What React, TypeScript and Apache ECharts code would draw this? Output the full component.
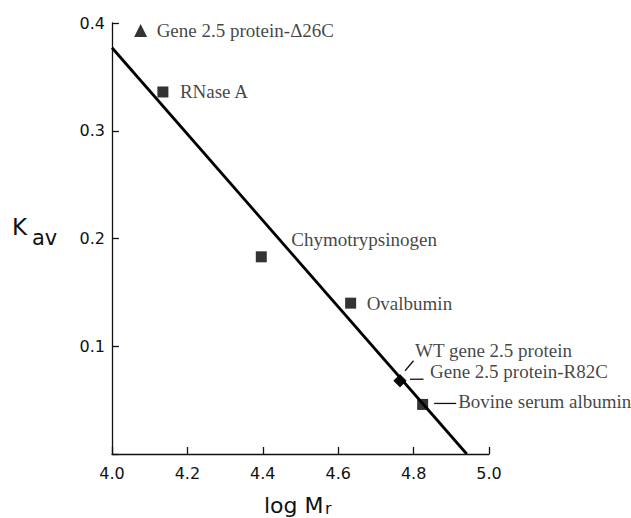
import { useEffect, useRef } from 'react';
import * as echarts from 'echarts';

// ---- data ----
const proteinNames = [
  'Gene 2.5 protein-Δ26C',
  'RNase A',
  'Chymotrypsinogen',
  'Ovalbumin',
  'WT gene 2.5 protein',
  'Gene 2.5 protein-R82C',
  'Bovine serum albumin',
];
const logMr = [4.076, 4.135, 4.396, 4.633, 4.764, 4.764, 4.824];
const kav = [0.393, 0.336, 0.183, 0.14, 0.068, 0.068, 0.046];
const proteinSymbols = ['triangle', 'rect', 'rect', 'rect', 'diamond', 'diamond', 'rect'];

const fitLogMr = [4.0, 4.941];
const fitKav = [0.377, 0.0];

const xMin = 4.0;
const xMax = 5.0;
const xStep = 0.2;
const yMin = 0;
const yMax = 0.4;
const yStep = 0.1;

// ---- styling (pixels relative to each symbol centre) ----
const symbolSizes = [13, 11, 11, 11, 13, 13, 11];
const labelOffsets: number[][] = [
  [16, 0],
  [17, 0],
  [30, -17.5],
  [16, 0],
  [15, -30],
  [30, -9.5],
  [35.5, -2.5],
];
const leaders: (number[] | null)[] = [
  null,
  null,
  null,
  null,
  [5, -10, 13.5, -20],
  [10, -1.5, 23.5, -1.5],
  [11.5, -1, 33.5, -1],
];

const SANS = '"DejaVu Sans", "Liberation Sans", sans-serif';
const SERIF = '"Liberation Serif", "Times New Roman", serif';

export default function App() {
  const ref = useRef<HTMLDivElement>(null);

  useEffect(() => {
    if (!ref.current) return;
    const chart = echarts.init(ref.current, undefined, { renderer: 'svg' });

    const scatterData = proteinNames.map((name, i) => ({
      name,
      value: [logMr[i], kav[i]],
      symbol: proteinSymbols[i],
      symbolSize: symbolSizes[i],
      label: {
        show: true,
        formatter: name,
        position: 'right',
        distance: 0,
        offset: [labelOffsets[i][0] - symbolSizes[i] / 2, labelOffsets[i][1]],
        align: 'left',
        verticalAlign: 'middle',
        color: '#111',
        fontFamily: SERIF,
        fontSize: 19,
      },
    }));

    chart.setOption({
      animation: false,
      backgroundColor: '#ffffff',
      grid: { left: 112, right: 142, top: 23, bottom: 64, containLabel: false },
      xAxis: {
        type: 'value',
        min: xMin,
        max: xMax,
        interval: xStep,
        axisLine: { show: true, onZero: false, lineStyle: { color: '#111', width: 1.3 } },
        axisTick: { show: true, inside: true, length: 7, lineStyle: { color: '#111', width: 1.3 } },
        axisLabel: {
          formatter: (v: number) => v.toFixed(1),
          color: '#111',
          fontFamily: SANS,
          fontSize: 16,
          margin: 11,
        },
        splitLine: { show: false },
      },
      yAxis: {
        type: 'value',
        min: yMin,
        max: yMax,
        interval: yStep,
        axisLine: { show: true, onZero: false, lineStyle: { color: '#111', width: 1.3 } },
        axisTick: { show: true, inside: true, length: 7, lineStyle: { color: '#111', width: 1.3 } },
        axisLabel: {
          formatter: (v: number) => (v === 0 ? '' : v.toFixed(1)),
          color: '#111',
          fontFamily: SANS,
          fontSize: 16,
          margin: 7,
        },
        splitLine: { show: false },
      },
      series: [
        {
          type: 'line',
          data: fitLogMr.map((x, i) => [x, fitKav[i]]),
          showSymbol: false,
          symbol: 'none',
          lineStyle: { color: '#000', width: 2.8 },
          z: 2,
          silent: true,
        },
        {
          type: 'scatter',
          data: scatterData,
          itemStyle: { color: '#000' },
          z: 3,
        },
      ],
    });

    const leaderLines: any[] = [];
    leaders.forEach((l, i) => {
      if (!l) return;
      const p = chart.convertToPixel({ gridIndex: 0 }, [logMr[i], kav[i]]) as number[];
      leaderLines.push({
        type: 'line',
        shape: { x1: p[0] + l[0], y1: p[1] + l[1], x2: p[0] + l[2], y2: p[1] + l[3] },
        style: { stroke: '#111', lineWidth: 1.3 },
        z: 10,
      });
    });

    chart.setOption({
      graphic: [
        ...leaderLines,
        {
          type: 'text',
          style: { x: 12, y: 227, text: 'K', fontFamily: SANS, fontSize: 23, fill: '#111', verticalAlign: 'middle', align: 'left' },
        },
        {
          type: 'text',
          style: { x: 32, y: 238, text: 'av', fontFamily: SANS, fontSize: 21, fill: '#111', verticalAlign: 'middle', align: 'left' },
        },
        {
          type: 'text',
          style: { x: 264, y: 505, text: 'log M', fontFamily: SANS, fontSize: 22, fill: '#111', verticalAlign: 'middle', align: 'left' },
        },
        {
          type: 'text',
          style: { x: 325, y: 508, text: 'r', fontFamily: SANS, fontSize: 16, fill: '#111', verticalAlign: 'middle', align: 'left' },
        },
      ],
    });

    return () => chart.dispose();
  }, []);

  return <div ref={ref} style={{ position: 'fixed', left: 0, top: 0, width: 631, height: 518 }} />;
}
